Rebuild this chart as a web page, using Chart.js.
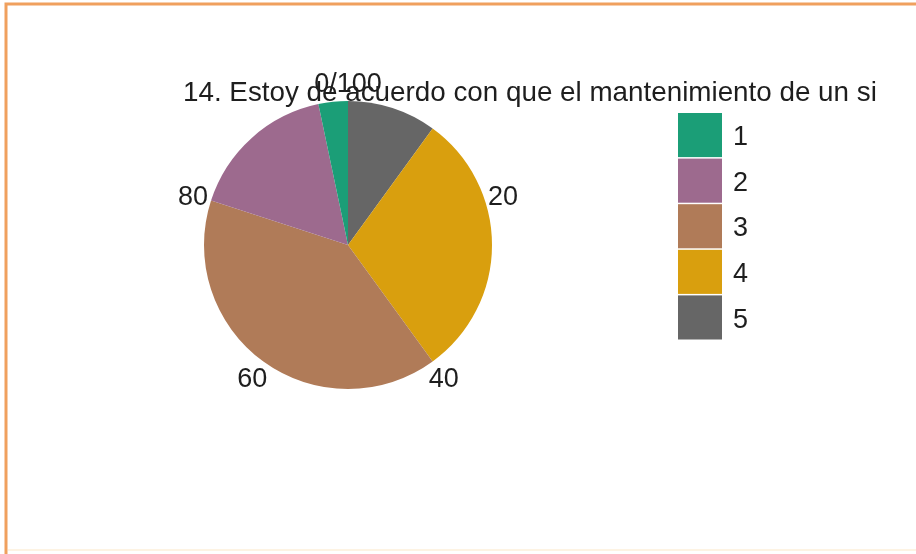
<!DOCTYPE html>
<html>
<head>
<meta charset="utf-8">
<script src="https://cdn.jsdelivr.net/npm/chart.js@4/dist/chart.umd.min.js"></script>
<style>
  html, body { margin: 0; padding: 0; background: #fff; }
  #wrap { width: 916px; height: 554px; position: relative; }
</style>
</head>
<body>
<div id="wrap"><canvas id="pie"></canvas></div>
<script>
// values (percent)
const categories = ['1', '2', '3', '4', '5'];
const percents = [3.3, 16.7, 40, 30, 10];
const colors = ['#1b9e77', '#9d6a8e', '#b07b58', '#d99f0e', '#666666'];
const tickValues = [0, 20, 40, 60, 80];
const tickLabels = ['0/100', '20', '40', '60', '80'];
const titleText = '14. Estoy de acuerdo con que el mantenimiento de un si';

const FONT = '"Liberation Sans", Arial, sans-serif';

// ggplot stacks the last level first, going clockwise from the top
const order = categories.map((c, i) => i).reverse();

const framePlugin = {
  id: 'frame',
  beforeDraw(chart) {
    const ctx = chart.ctx;
    ctx.save();
    ctx.fillStyle = '#fff';
    ctx.fillRect(0, 0, chart.width, chart.height);
    ctx.strokeStyle = '#f0a05e';
    ctx.lineWidth = 3;
    ctx.beginPath();
    ctx.moveTo(6, chart.height);
    ctx.lineTo(6, 4);
    ctx.lineTo(chart.width, 4);
    ctx.stroke();
    ctx.strokeStyle = '#fdf3e3';
    ctx.lineWidth = 2;
    ctx.beginPath();
    ctx.moveTo(8, chart.height - 4);
    ctx.lineTo(chart.width, chart.height - 4);
    ctx.stroke();
    ctx.restore();
  }
};

const decorPlugin = {
  id: 'decor',
  afterDraw(chart) {
    const ctx = chart.ctx;
    const arc = chart.getDatasetMeta(0).data[0];
    const cx = arc.x, cy = arc.y, r = arc.outerRadius;
    ctx.save();
    ctx.fillStyle = '#1e1e1e';
    ctx.textAlign = 'center';
    ctx.textBaseline = 'middle';
    ctx.font = '27px ' + FONT;
    tickValues.forEach((t, i) => {
      const a = -Math.PI / 2 + 2 * Math.PI * t / 100;
      const d = r + 19;
      ctx.fillText(tickLabels[i], cx + d * Math.cos(a), cy + d * Math.sin(a) + 3);
    });

    // title
    ctx.font = '27.8px ' + FONT;
    ctx.textAlign = 'left';
    ctx.textBaseline = 'alphabetic';
    ctx.fillText(titleText, 183, 101);

    // legend
    const kx = 678, ky = 113, kw = 44, kh = 45.6;
    categories.forEach((c, i) => {
      ctx.fillStyle = colors[i];
      ctx.fillRect(kx, ky + i * kh, kw, kh - 1.5);
      ctx.fillStyle = '#1e1e1e';
      ctx.font = '27px ' + FONT;
      ctx.textBaseline = 'middle';
      ctx.fillText(c, kx + 55, ky + i * kh + kh / 2 + 2);
    });
    ctx.restore();
  }
};

new Chart(document.getElementById('pie'), {
  type: 'pie',
  data: {
    labels: order.map(i => categories[i]),
    datasets: [{
      data: order.map(i => percents[i]),
      backgroundColor: order.map(i => colors[i]),
      borderWidth: 0
    }]
  },
  options: {
    responsive: true,
    maintainAspectRatio: false,
    animation: false,
    layout: { padding: { left: 204, right: 424, top: 101, bottom: 165 } },
    plugins: {
      legend: { display: false },
      tooltip: { enabled: false },
      title: { display: false }
    }
  },
  plugins: [framePlugin, decorPlugin]
});
</script>
</body>
</html>
